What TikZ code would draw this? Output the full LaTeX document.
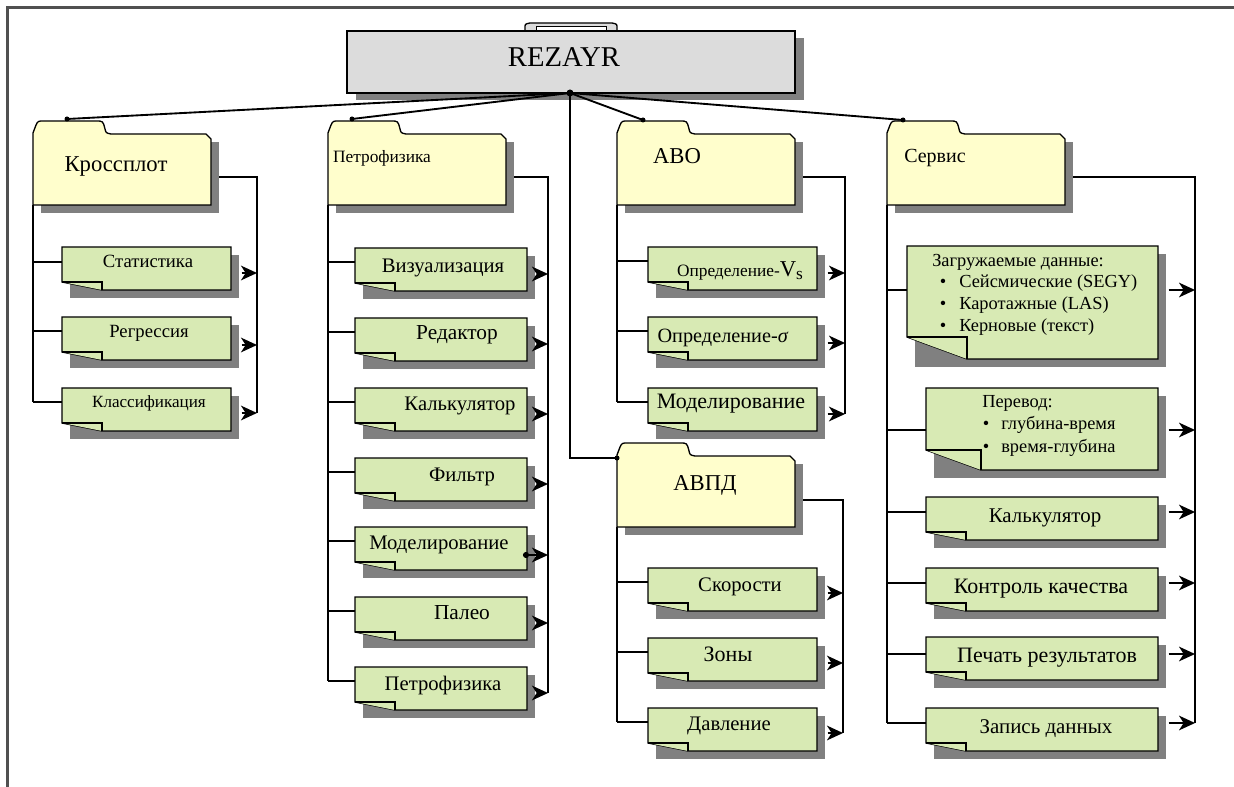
\documentclass[tikz,border=0pt]{standalone}
\usepackage{fontspec}
\setmainfont{Liberation Serif}
\usetikzlibrary{arrows.meta,fit,calc}
\pgfdeclarelayer{conn}\pgfdeclarelayer{shd}\pgfdeclarelayer{bgs}
\pgfsetlayers{conn,shd,bgs,main}
\definecolor{foldc}{RGB}{255,254,204}
\definecolor{leafc}{RGB}{216,234,180}
\definecolor{shadc}{RGB}{128,128,128}
\definecolor{topc}{RGB}{220,220,220}
\definecolor{framec}{RGB}{80,80,80}
\newcommand{\fs}[1]{\fontsize{#1}{#1}\selectfont}
\newcommand{\leafshape}[3]{%
 \begin{pgfonlayer}{shd}
 \fill[shadc] ([shift={(8,8)}]#1.north west) rectangle ([shift={(8,8)}]#1.south east);
 \end{pgfonlayer}
 \begin{pgfonlayer}{bgs}
 \filldraw[shapeline,fill=leafc] (#1.north west) -- (#1.north east) -- (#1.south east) -- ([shift={(#2,0)}]#1.south west) -- ([shift={(0,-#3)}]#1.south west) -- cycle;
 \filldraw[shapeline,fill=leafc] ([shift={(0,-#3)}]#1.south west) -- ([shift={(#2,-#3)}]#1.south west) -- ([shift={(#2,0)}]#1.south west);
 \end{pgfonlayer}}
\newcommand{\foldershape}[1]{%
 \begin{pgfonlayer}{shd}
 \fill[shadc] ([shift={(8,8)}]#1.north west) rectangle ([shift={(8,8)}]#1.south east);
 \end{pgfonlayer}
 \begin{pgfonlayer}{bgs}
 \filldraw[shapeline,fill=foldc] (#1.south west) -- ([shift={(0,-1)}]#1.north west) -- ([shift={(3,-9)}]#1.north west) .. controls ([shift={(5,-13)}]#1.north west) .. ([shift={(11,-13)}]#1.north west) -- ([shift={(63,-13)}]#1.north west) .. controls ([shift={(70,-13)}]#1.north west) .. ([shift={(72,-5)}]#1.north west) .. controls ([shift={(73,-1)}]#1.north west) .. ([shift={(78,0)}]#1.north west) -- ([shift={(-5,0)}]#1.north east) -- ([shift={(0,5)}]#1.north east) -- (#1.south east) -- cycle;
 \end{pgfonlayer}}
\newcommand{\hook}[5]{%
 \coordinate (#2i) at ([shift={(0,#3)}]#2.north west);
 \coordinate (#2o) at ([shift={(0,#4)}]#2.north east);
 \begin{pgfonlayer}{conn}
 \draw[conline] (#1.west |- #2i) -- (#2i);
 \end{pgfonlayer}
 \draw[arr] (#2o) -- (#5 |- #2o);}
\begin{document}
\begin{tikzpicture}[x=0.75pt,y=-0.75pt,
 box/.style={rectangle,inner sep=0pt,outer sep=0pt,draw=none},
 lbl/.style={inner sep=0pt,anchor=base,font=\fs{15.5}},
 shapeline/.style={draw=black,line width=1pt},
 conline/.style={draw=black,line width=0.9pt},
 busline/.style={draw=black,line width=0.9pt},
 topline/.style={draw=black,line width=1.4pt},
 arrtip/.style={-{Stealth[length=12pt,width=11pt,inset=3.5pt]}},
 arr/.style={draw=black,line width=1.4pt,shorten <=8pt,arrtip},
 jdot/.style={fill=black,draw=none}]
\useasboundingbox (0,0) rectangle (1234,787);
% top box
\node[box,fit={(347,31)(795,93)}] (top) {};
\begin{pgfonlayer}{shd}
\fill[shadc] ([shift={(9,7)}]top.north west) rectangle ([shift={(9,7)}]top.south east);
\end{pgfonlayer}
\begin{pgfonlayer}{bgs}
\filldraw[shapeline,fill=topc] (525,31) -- (525,28) .. controls (525,24) .. (530,23) -- (612,23) .. controls (617,24) .. (617,28) -- (617,31) -- cycle;
\filldraw[draw=black,line width=0.6pt,fill=white] (536,26.5) rectangle (606,30);
\filldraw[shapeline,fill=topc] (top.north west) rectangle (top.south east);
\end{pgfonlayer}
\node[lbl,font=\fs{21.5}] (topt) at (564,67) {REZAYR};
% folders
\node[box,fit={(33,134)(211,205)}] (kr) {};
\node[box,fit={(328,134)(506,205)}] (pf) {};
\node[box,fit={(617,134)(795,205)}] (abo) {};
\node[box,fit={(887,134)(1065,205)}] (sv) {};
\node[box,fit={(617,456)(795,527)}] (avpd) {};
\foreach \f in {kr,pf,abo,sv,avpd}{\foldershape{\f}}
\node[lbl,font=\fs{17}] (krt) at (116,172) {Кроссплот};
\node[lbl,font=\fs{13}] (pft) at (382,163) {Петрофизика};
\node[lbl,font=\fs{17}] (abot) at (677,164) {АВО};
\node[lbl,font=\fs{17}] (avpdt) at (705,490) {АВПД};
\node[lbl,font=\fs{15}] (svt) at (935,163) {Сервис};
% leaves
\node[box,fit={(62,247)(231,290)}] (kr1) {};
\node[box,fit={(62,317)(231,360)}] (kr2) {};
\node[box,fit={(62,388)(231,431)}] (kr3) {};
\node[box,fit={(355,248)(527,291)}] (pf1) {};
\node[box,fit={(355,318)(527,361)}] (pf2) {};
\node[box,fit={(355,388)(527,431)}] (pf3) {};
\node[box,fit={(355,458)(527,501)}] (pf4) {};
\node[box,fit={(355,527)(527,570)}] (pf5) {};
\node[box,fit={(355,597)(527,640)}] (pf6) {};
\node[box,fit={(355,667)(527,710)}] (pf7) {};
\node[box,fit={(648,247)(817,290)}] (ab1) {};
\node[box,fit={(648,317)(817,360)}] (ab2) {};
\node[box,fit={(648,388)(817,431)}] (ab3) {};
\node[box,fit={(648,568)(817,611)}] (ap1) {};
\node[box,fit={(648,638)(817,681)}] (ap2) {};
\node[box,fit={(648,708)(817,751)}] (ap3) {};
\node[box,fit={(907,246)(1158,359)}] (sv1) {};
\node[box,fit={(926,388)(1158,470)}] (sv2) {};
\node[box,fit={(926,497)(1158,540)}] (sv3) {};
\node[box,fit={(926,568)(1158,611)}] (sv4) {};
\node[box,fit={(926,637)(1158,680)}] (sv5) {};
\node[box,fit={(926,708)(1158,751)}] (sv6) {};
\foreach \l in {kr1,kr2,kr3,pf1,pf2,pf3,pf4,pf5,pf6,pf7,ab1,ab2,ab3,ap1,ap2,ap3,sv3,sv4,sv5,sv6}{\leafshape{\l}{40}{8}}
\leafshape{sv1}{60}{22}
\leafshape{sv2}{55}{20}
% leaf texts
\node[lbl,font=\fs{14}] (kr1t) at (148,268) {Статистика};
\node[lbl,font=\fs{14}] (kr2t) at (149,338) {Регрессия};
\node[lbl,font=\fs{12.8}] (kr3t) at (149,408) {Классификация};
\node[lbl] (pf1t) at (443,273) {Визуализация};
\node[lbl,font=\fs{16}] (pf2t) at (457,340) {Редактор};
\node[lbl] (pf3t) at (460,411) {Калькулятор};
\node[lbl] (pf4t) at (462,481) {Фильтр};
\node[lbl] (pf5t) at (439,549) {Моделирование};
\node[lbl,font=\fs{16}] (pf6t) at (462,619) {Палео};
\node[lbl] (pf7t) at (443,690) {Петрофизика};
\node[lbl,font=\fs{13}] (ab1t) at (740,277) {Определение-{\fs{17}V}\raisebox{-0.35ex}{s}};
\node[lbl,font=\fs{15.2}] (ab2t) at (723,343) {Определение-\textit{σ}};
\node[lbl,font=\fs{16.5}] (ab3t) at (731,409) {Моделирование};
\node[lbl,font=\fs{15.5}] (ap1t) at (740,591) {Скорости};
\node[lbl,font=\fs{16.5}] (ap2t) at (728,661) {Зоны};
\node[lbl,font=\fs{15.5}] (ap3t) at (729,730) {Давление};
\node[lbl,font=\fs{15.7}] (sv3t) at (1045,522) {Калькулятор};
\node[lbl,font=\fs{16.5}] (sv4t) at (1041,593) {Контроль качества};
\node[lbl,font=\fs{16.5}] (sv5t) at (1047,662) {Печать результатов};
\node[lbl,font=\fs{15.7}] (sv6t) at (1046,733) {Запись данных};
% service notes
\tikzset{nt/.style={inner sep=0pt,anchor=base west,font=\fs{13.8}},
 bul/.style={inner sep=0pt,anchor=base,font=\fs{13.8}}}
\node[nt] (sv1h) at (932,267) {Загружаемые данные:};
\node[bul] (sv1b1) at (943,288) {\textbullet};
\node[nt] (sv1a) at (959,288) {Сейсмические (SEGY)};
\node[bul] (sv1b2) at (943,310) {\textbullet};
\node[nt] (sv1b) at (959,310) {Каротажные (LAS)};
\node[bul] (sv1b3) at (943,332) {\textbullet};
\node[nt] (sv1c) at (959,332) {Керновые (текст)};
\node[nt] (sv2h) at (982,408) {Перевод:};
\node[bul] (sv2b1) at (986,430) {\textbullet};
\node[nt] (sv2a) at (1001,430) {глубина-время};
\node[bul] (sv2b2) at (986,452) {\textbullet};
\node[nt] (sv2b) at (1001,452) {время-глубина};
% buses
\coordinate (krb) at (257,177);
\coordinate (pfb) at (548,177);
\coordinate (abb) at (845,177);
\coordinate (apb) at (843,500);
\coordinate (svb) at (1195,177);
\hook{kr}{kr1}{15}{26}{krb}
\hook{kr}{kr2}{14}{28}{krb}
\hook{kr}{kr3}{14}{25}{krb}
\foreach \l in {pf1,pf2,pf3,pf4,pf6,pf7}{\hook{pf}{\l}{14}{26}{pfb}}
\coordinate (pf5i) at ([shift={(0,14)}]pf5.north west);
\coordinate (pf5o) at ([shift={(-4,28)}]pf5.north east);
\begin{pgfonlayer}{conn}
\draw[conline] (pf.west |- pf5i) -- (pf5i);
\end{pgfonlayer}
\draw[draw=black,line width=1.4pt,{Circle[length=4.5pt]}-{Stealth[length=12pt,width=11pt,inset=3.5pt]}] (pf5o) -- (pfb |- pf5o);
\foreach \l in {ab1,ab2,ab3}{\hook{abo}{\l}{14}{26}{abb}}
\foreach \l in {ap1,ap2,ap3}{\hook{avpd}{\l}{14}{25}{apb}}
\hook{sv}{sv1}{44}{44}{svb}
\hook{sv}{sv2}{42}{42}{svb}
\hook{sv}{sv3}{15}{15}{svb}
\hook{sv}{sv4}{15}{15}{svb}
\hook{sv}{sv5}{17}{17}{svb}
\hook{sv}{sv6}{15}{15}{svb}
\begin{pgfonlayer}{conn}
\draw[busline] (kr.south west) -- (kr.west |- kr3i);
\draw[busline] (kr.east |- krb) -- (krb) -- (krb |- kr3o);
\draw[busline] (pf.south west) -- (pf.west |- pf7i);
\draw[busline] (pf.east |- pfb) -- (pfb) -- (pfb |- pf7o);
\draw[busline] (abo.south west) -- (abo.west |- ab3i);
\draw[busline] (abo.east |- abb) -- (abb) -- (abb |- ab3o);
\draw[busline] (avpd.south west) -- (avpd.west |- ap3i);
\draw[busline] (avpd.east |- apb) -- (apb) -- (apb |- ap3o);
\draw[busline] (sv.south west) -- (sv.west |- sv6i);
\draw[busline] (sv.east |- svb) -- (svb) -- (svb |- sv6o);
\end{pgfonlayer}
% top connectors
\coordinate (jn) at (570,93);
\coordinate (krtop) at ([shift={(34,-15)}]kr.north west);
\coordinate (pftop) at ([shift={(24,-15)}]pf.north west);
\coordinate (abotop) at ([shift={(26,-14)}]abo.north west);
\coordinate (svtop) at ([shift={(16,-14)}]sv.north west);
\coordinate (avpdin) at ([shift={(0,2)}]avpd.north west);
\draw[topline] (jn) -- (krtop);
\draw[topline] (jn) -- (pftop);
\draw[topline] (jn) -- (abotop);
\draw[topline] (jn) -- (svtop);
\draw[draw=black,line width=1.8pt] (jn) |- (avpdin);
\foreach \c in {krtop,pftop,abotop,svtop,avpdin}{\fill[jdot] (\c) circle (2.5);}
\fill[jdot] (jn) circle (3.5);
% frame
\draw[framec,line width=2pt] (7.5,787) -- (7.5,7.5) -- (1234,7.5);
\end{tikzpicture}
\end{document}
